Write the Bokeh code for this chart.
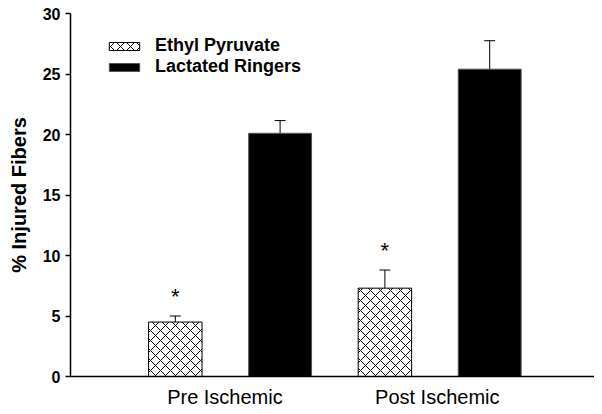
from bokeh.plotting import figure
from bokeh.models import (Range1d, FixedTicker, Whisker, ColumnDataSource, Legend,
                          LegendItem, TeeHead)
from bokeh.embed import file_html
from bokeh.resources import INLINE
from bokeh.core.properties import value

# ---- data ----
groups = ["Pre  Ischemic", "Post Ischemic"]
series = ["Ethyl Pyruvate", "Lactated Ringers"]
ep_values = [4.5, 7.3]
ep_errors = [0.5, 1.5]
lr_values = [20.1, 25.4]
lr_errors = [1.05, 2.35]
y_ticks = [0, 5, 10, 15, 20, 25, 30]
significant = ["*", "*"]   # marks above Ethyl Pyruvate bars

FONT = "Liberation Sans"

n = len(groups)
ep_x = [1 + 2 * g for g in range(n)]
lr_x = [2 + 2 * g for g in range(n)]
group_x = [1.5 + 2 * g for g in range(n)]

ep_src = ColumnDataSource(dict(x=ep_x, top=ep_values,
                               upper=[v + e for v, e in zip(ep_values, ep_errors)]))
lr_src = ColumnDataSource(dict(x=lr_x, top=lr_values,
                               upper=[v + e for v, e in zip(lr_values, lr_errors)]))
star_src = ColumnDataSource(dict(x=ep_x, y=[v + e + 1.6 for v, e in zip(ep_values, ep_errors)],
                                 t=significant))

p = figure(width=594, height=410, output_backend="svg", toolbar_location=None,
           x_range=Range1d(0, 5), y_range=Range1d(0, 30),
           min_border_left=70, min_border_right=0, min_border_top=13, min_border_bottom=33)
p.outline_line_color = None
p.xgrid.visible = False
p.ygrid.visible = False
p.background_fill_color = "white"
p.border_fill_color = "white"

ep_r = p.vbar(x="x", top="top", bottom=0, width=0.51, source=ep_src,
              fill_color="white", line_color="black", line_width=1,
              hatch_pattern="diagonal_cross", hatch_color="black",
              hatch_scale=10, hatch_weight=1)
lr_r = p.vbar(x="x", top="top", bottom=0, width=0.6, source=lr_src,
              fill_color="black", line_color="#555555", line_width=1)

for src in (ep_src, lr_src):
    w = Whisker(base="x", lower="top", upper="upper", source=src,
                line_color="black", line_width=1,
                upper_head=TeeHead(size=11, line_color="black", line_width=1),
                lower_head=None, level="underlay")
    p.add_layout(w)

p.text(x="x", y="y", text="t", source=star_src, text_align="center",
       text_baseline="middle", text_font=value(FONT), text_font_size="22px",
       text_color="black")

# axes
p.yaxis.ticker = FixedTicker(ticks=y_ticks)
p.yaxis.major_tick_out = 5
p.yaxis.major_tick_in = 0
p.yaxis.minor_tick_line_color = None
p.yaxis.axis_line_width = 1.5
p.yaxis.axis_line_color = "black"
p.yaxis.major_tick_line_width = 1.5
p.yaxis.major_tick_line_color = "black"
p.yaxis.major_label_text_font = FONT
p.yaxis.major_label_text_font_style = "bold"
p.yaxis.major_label_text_font_size = "16px"
p.yaxis.major_label_text_color = "black"
p.yaxis.major_label_standoff = 5
p.yaxis.axis_label = "% Injured Fibers"
p.yaxis.axis_label_text_font = FONT
p.yaxis.axis_label_text_font_style = "bold"
p.yaxis.axis_label_text_font_size = "20px"
p.yaxis.axis_label_text_color = "black"
p.yaxis.axis_label_standoff = 10

p.xaxis.ticker = FixedTicker(ticks=group_x)
p.xaxis.major_label_overrides = {gx: g for gx, g in zip(group_x, groups)}
p.xaxis.major_tick_line_color = None
p.xaxis.minor_tick_line_color = None
p.xaxis.major_tick_out = 0
p.xaxis.major_tick_in = 0
p.xaxis.axis_line_width = 1.5
p.xaxis.axis_line_color = "black"
p.xaxis.major_label_text_font = FONT
p.xaxis.major_label_text_font_size = "20px"
p.xaxis.major_label_text_color = "black"
p.xaxis.major_label_standoff = 9

legend = Legend(items=[LegendItem(label=series[0], renderers=[ep_r]),
                       LegendItem(label=series[1], renderers=[lr_r])],
                location=(35, 299), padding=0, margin=0, spacing=0,
                glyph_width=38, glyph_height=10, label_standoff=12, label_height=21,
                label_text_font=FONT, label_text_font_style="bold",
                label_text_font_size="18px", label_text_color="black",
                border_line_color=None, background_fill_alpha=0)
p.add_layout(legend)

open("out.html", "w").write(file_html(p, INLINE))
